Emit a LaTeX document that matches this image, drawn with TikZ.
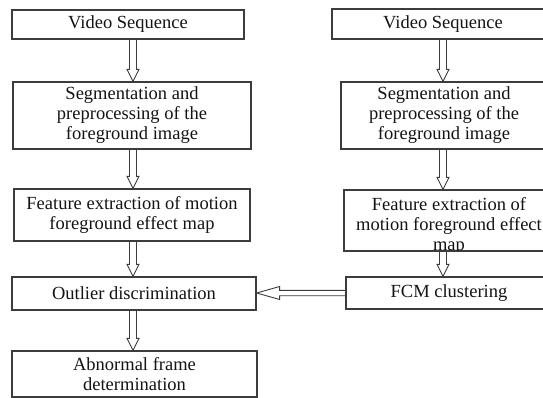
\documentclass[tikz,border=0pt]{standalone}
\usepackage{fontspec}
\setmainfont{Liberation Serif}
\usetikzlibrary{calc}
\definecolor{linec}{HTML}{3C3C3C}
\definecolor{textc}{HTML}{141414}
\tikzset{
  box/.style={draw=linec, line width=1.2pt, fill=white, inner sep=0pt,
    align=center, text=textc, font=\fontsize{18.5pt}{20pt}\selectfont},
  % hollow arrow pointing down: open shaft with a triangular head
  hollowdown/.style={draw=linec, line width=0.9pt, to path={
    let \p1=(\tikztostart), \p2=(\tikztotarget) in
    (\x1-3.5pt,\y1) -- (\x1-3.5pt,\y2+12pt) -- (\x1-6pt,\y2+12pt) -- (\x1,\y2)
    -- (\x1+6pt,\y2+12pt) -- (\x1+3.5pt,\y2+12pt) -- (\x1+3.5pt,\y1)}},
  % hollow arrow pointing left
  hollowleft/.style={draw=linec, line width=0.9pt, to path={
    let \p1=(\tikztostart), \p2=(\tikztotarget) in
    (\x1,\y1+2.7pt) -- (\x2+23pt,\y1+2.7pt) -- (\x2+23pt,\y1+6.5pt) -- (\x2,\y1)
    -- (\x2+23pt,\y1-6.5pt) -- (\x2+23pt,\y1-2.7pt) -- (\x1,\y1-2.7pt)}}
}
\begin{document}
\begin{tikzpicture}[x=1pt,y=-1pt]
\useasboundingbox (0,0) rectangle (543,398);
\fill[white] (0,0) rectangle (543,398);
\clip (0,0) rectangle (543,398);

\coordinate (laxis) at (133,0);
\coordinate (raxis) at (443,0);

% left column
\node[box, minimum width=232pt, minimum height=29pt] (l1) at (128,24.5) {Video Sequence};
\node[box, minimum width=238pt, minimum height=67pt] (l2) at (132,115.5)
  {Segmentation and\\preprocessing of the\\foreground image};
\node[box, minimum width=236pt, minimum height=52pt] (l3) at (132,215)
  {Feature extraction of motion\\foreground effect map};
\node[box, minimum width=244pt, minimum height=33pt] (l4) at (134,293.5) {Outlier discrimination};
\node[box, minimum width=245pt, minimum height=46pt] (l5) at (134.5,374)
  {Abnormal frame\\determination};

% right column
\node[box, minimum width=222pt, minimum height=30pt] (r1) at (443,24) {Video Sequence};
\node[box, minimum width=206pt, minimum height=67pt] (r2) at (444,115.5)
  {Segmentation and\\preprocessing of the\\foreground image};
\node[box, minimum width=202pt, minimum height=61pt] (r3) at (445,220.5) {};
% the text of this box runs past its lower edge and is cut there
\begin{scope}
  \clip (r3.north west) rectangle (r3.south east);
  \node[align=center, text=textc, inner sep=0pt, anchor=north,
    font=\fontsize{18.5pt}{20pt}\selectfont] (r3txt) at (449,197.5)
    {Feature extraction of\\motion foreground effect\\map};
\end{scope}
\draw[linec, line width=1.2pt] (r3.north west) rectangle (r3.south east);
\node[box, minimum width=206pt, minimum height=32pt] (r4) at (449,293) {FCM clustering};

% connectors
\draw[hollowdown] (l1.south -| laxis) to (l2.north -| laxis);
\draw[hollowdown] (l2.south -| laxis) to (l3.north -| laxis);
\draw[hollowdown] (l3.south -| laxis) to (l4.north -| laxis);
\draw[hollowdown] (l4.south -| laxis) to (l5.north -| laxis);

\draw[hollowdown] (r1.south -| raxis) to (r2.north -| raxis);
\draw[hollowdown] (r2.south -| raxis) to (r3.north -| raxis);
\draw[hollowdown] (r3.south -| raxis) to (r4.north -| raxis);

\draw[hollowleft] (r4.west) to (l4.east |- r4.west);
\end{tikzpicture}
\end{document}
